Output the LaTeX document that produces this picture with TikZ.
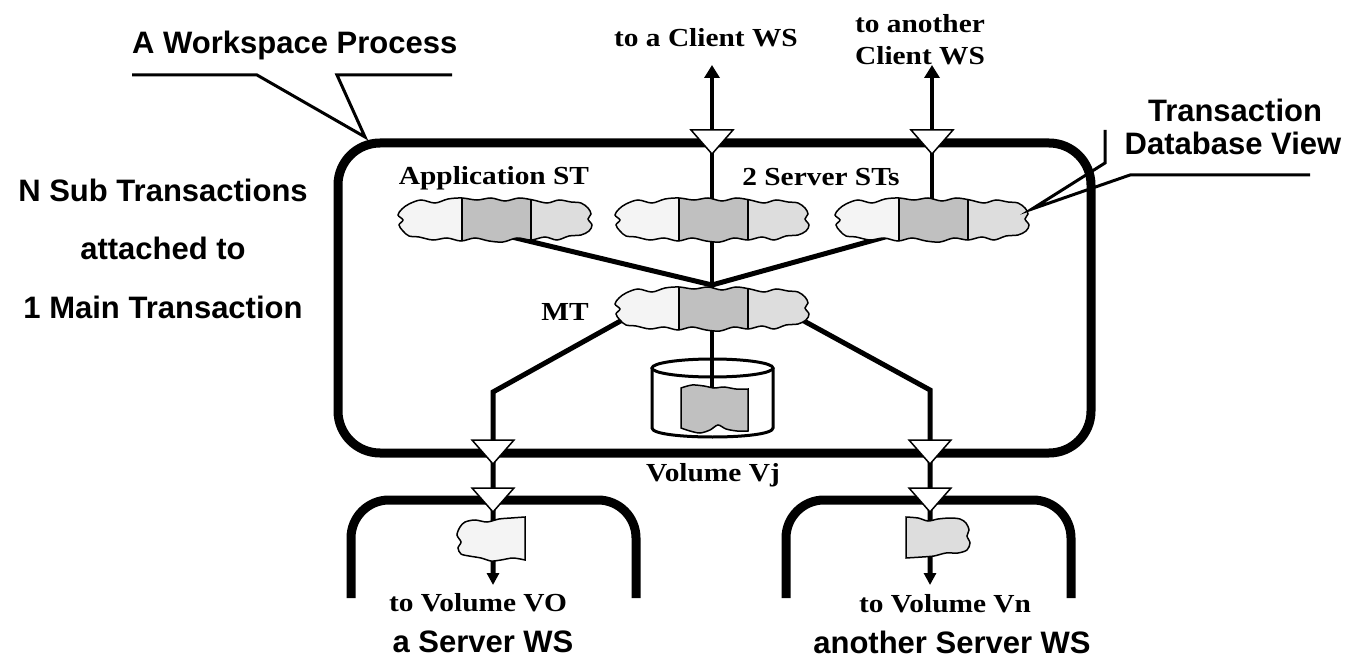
\documentclass[tikz,border=0pt]{standalone}
\usepackage{fontspec}
\setmainfont{Liberation Serif}
\newfontfamily\sansbold{Liberation Sans Bold}
\newfontfamily\serifbold{Liberation Serif Bold}[FakeStretch=1.13]
\usetikzlibrary{arrows.meta,calc}

\definecolor{segA}{HTML}{F4F4F4}
\definecolor{segB}{HTML}{C0C0C0}
\definecolor{segC}{HTML}{DDDDDD}

\begin{document}
\begin{tikzpicture}[x=1pt,y=-1pt,
  heavy/.style={line width=9pt},
  conn/.style={line width=4pt},
  feed/.style={line width=5pt},
  callout/.style={line width=3pt},
  outline/.style={line width=1.5pt},
  divider/.style={line width=2pt},
  upArrow/.style={-{Triangle[width=15pt,length=13pt]}},
  downArrow/.style={-{Triangle[width=12pt,length=12pt]}},
  serif/.style={font=\serifbold\fontsize{26}{30}\selectfont, inner sep=0pt, anchor=base},
  sans/.style={font=\sansbold\fontsize{31}{36}\selectfont, inner sep=0pt, anchor=base},
  % wavy outline of a transaction (three database-view segments)
  cloudshape/.style={insert path={plot[smooth cycle,tension=0.55] coordinates {
      (-86,-16) (-74,-20) (-60,-17) (-47,-21) (-33,-22) (-18,-20) (-4,-22) (10,-19)
      (24,-22) (38,-20) (52,-17) (64,-20) (76,-18) (86,-17)
      (93,-12) (96,-6) (93,-1) (97,5) (94,11) (86,15)
      (74,16) (62,20) (50,17) (36,20) (22,18) (8,22) (-6,21) (-20,18) (-34,21)
      (-48,18) (-62,20) (-76,17) (-86,16)
      (-92,11) (-96,5) (-92,0) (-97,-5) (-93,-11)}}},
  cloudbar/.pic={
    \begin{scope}
      \clip[cloudshape];
      \fill[segA] (-110,-30) rectangle (-33,30);
      \fill[segB] (-33,-30) rectangle (36,30);
      \fill[segC] (36,-30) rectangle (110,30);
      \draw[divider] (-33,-30) -- (-33,30) (36,-30) -- (36,30);
    \end{scope}
    \draw[outline, cloudshape];
  },
  % middle segment stored in the volume
  volpiece/.pic={
    \draw[outline, fill=segB] (-31,-21)
      -- plot[smooth] coordinates {(-31,-21) (-20,-24) (-8,-23) (2,-21) (12,-22) (24,-20) (36,-20)}
      -- (36,22)
      -- plot[smooth] coordinates {(36,22) (25,22) (14,20) (6,16) (-2,21) (-12,24) (-22,22) (-31,19)}
      -- cycle;
  },
  % left segment at a server
  leftpiece/.pic={
    \draw[outline, fill=segA] (34,-22) -- (34,21)
      -- plot[smooth] coordinates {(34,21) (22,19) (10,21) (0,22) (-10,19) (-22,17) (-30,15)
         (-33,9) (-30,3) (-34,-4) (-31,-12) (-26,-17) (-16,-19) (-4,-17) (8,-20) (20,-21) (34,-22)}
      -- cycle;
  },
  % right segment at a server
  rightpiece/.pic={
    \draw[outline, fill=segC] (-32,-21)
      -- plot[smooth] coordinates {(-32,-21) (-20,-20) (-10,-17) (0,-19) (12,-20) (22,-19) (28,-15)
         (31,-8) (29,-2) (32,5) (29,12) (20,15) (8,15) (-4,18) (-16,19) (-32,20)}
      -- cycle;
  },
  valve/.pic={\draw[line width=1.5pt, fill=white] (-21,-12) -- (21,-12) -- (0,12) -- cycle;}
]
\useasboundingbox (0,0) rectangle (1365,660);

% ---------- process frames ----------
\coordinate (wsTL) at (338,143);
\coordinate (wsBR) at (1091,453);
\draw[heavy, rounded corners=42pt] (wsTL) rectangle (wsBR);

\draw[heavy, rounded corners=38pt] (351,598) -- (351,500) -- (636,500) -- (636,598);
\draw[heavy, rounded corners=38pt] (786,598) -- (786,500) -- (1071,500) -- (1071,598);

% ---------- volume Vj ----------
\coordinate (cyl) at (712.5,368);
\draw[line width=3pt, fill=white] (652,368) -- (652,428)
  .. controls (652,440) and (773,440) .. (773,428) -- (773,368);
\draw[line width=3pt, fill=white] (cyl) ellipse [x radius=60.5pt, y radius=9pt];

% ---------- anchor points ----------
\coordinate (st1) at (495,220);
\coordinate (st2) at (712,220);
\coordinate (st3) at (932,220);
\coordinate (mt) at (712,309);
\coordinate (hub) at (712,285);
\coordinate (vol) at (712,409);
\coordinate (tipA) at (712,65);
\coordinate (tipB) at (932,65);
\coordinate (bendL) at (493,392);
\coordinate (tipL) at (493,585);
\coordinate (bendR) at (930,390);
\coordinate (tipR) at (930,585);
\coordinate (flagL) at (491,539);
\coordinate (flagR) at (938,538);

% ---------- connectors ----------
\draw[conn, upArrow] (vol) -- (tipA);
\draw[conn, upArrow] (st3) -- (tipB);
\draw[feed] ($(st1)+(0,13)$) -- (hub) -- ($(st3)+(0,4)$);
\draw[feed, downArrow] ($(mt)+(-70,0)$) -- (bendL) -- (tipL);
\draw[feed, downArrow] ($(mt)+(70,0)$) -- (bendR) -- (tipR);

% ---------- ports ----------
\coordinate (portA) at (712,142);
\coordinate (portB) at (932,142);
\coordinate (portL1) at (493,452);
\coordinate (portR1) at (930,452);
\coordinate (portL2) at (493,500);
\coordinate (portR2) at (930,500);
\foreach \p in {portA,portB,portL1,portR1,portL2,portR2} \pic at (\p) {valve};

% ---------- transactions ----------
\pic at (st1) {cloudbar};
\pic at (st2) {cloudbar};
\pic at (st3) {cloudbar};
\pic at (mt) {cloudbar};
\pic at (vol) {volpiece};
\pic at (flagL) {leftpiece};
\pic at (flagR) {rightpiece};

% ---------- callouts ----------
\coordinate (wsTip) at (365,137);
\coordinate (wsA) at (132,75);
\coordinate (wsB) at (452,75);
\draw[callout] (wsA) -- (257,75) -- (wsTip) -- (337,75) -- (wsB);
\coordinate (tdvTip) at (1032,209);
\coordinate (tdvA) at (1105,130);
\coordinate (tdvB) at (1310,175);
\draw[callout] (tdvA) -- (1105,163) -- (tdvTip) -- (1130,175) -- (tdvB);

% ---------- labels ----------
\node[serif] (lblClientA) at (706,47) {to a Client WS};
\node[serif] (lblClientB1) at (920,33) {to another};
\node[serif] (lblClientB2) at (920,65) {Client WS};
\node[serif] (lblApp) at (494,185) {Application ST};
\node[serif] (lblSrv) at (821,186) {2 Server STs};
\node[serif] (lblMT) at (565,320) {MT};
\node[serif] (lblVj) at (713,481) {Volume Vj};
\node[serif] (lblV0) at (478,611) {to Volume VO};
\node[serif] (lblVn) at (945,612) {to Volume Vn};
\node[sans] (lblSrvA) at (483,652) {a Server WS};
\node[sans] (lblSrvB) at (952,653) {another Server WS};
\node[sans] (lblN) at (163,202) {N Sub Transactions};
\node[sans] (lblAtt) at (163,260) {attached to};
\node[sans] (lblOne) at (163,318) {1 Main Transaction};
\node[sans, anchor=base west] (lblWP) at (132,54) {A Workspace Process};
\node[sans] (lblT) at (1235,122) {Transaction};
\node[sans] (lblDV) at (1233,155) {Database View};
\end{tikzpicture}
\end{document}
